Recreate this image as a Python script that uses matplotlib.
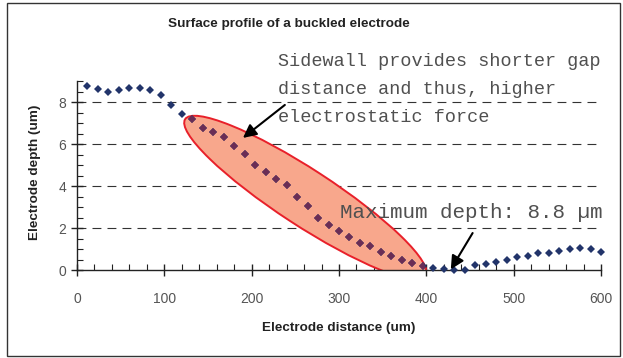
import numpy as np
import matplotlib
matplotlib.use('Agg')
import matplotlib.pyplot as plt
import matplotlib.patches as mpatches
import matplotlib.transforms as mtransforms
from matplotlib.ticker import MultipleLocator

# surface profile (um)
distance = [12, 24, 36, 48, 60, 72, 84, 96, 108, 120,
            132, 144, 156, 168, 180, 192, 204, 216, 228, 240,
            252, 264, 276, 288, 300, 312, 324, 336, 348, 360,
            372, 384, 396, 408, 420, 432, 444, 456, 468, 480,
            492, 504, 516, 528, 540, 552, 564, 576, 588, 600]
depth = [8.74, 8.62, 8.47, 8.57, 8.69, 8.69, 8.57, 8.35, 7.85, 7.45,
         7.19, 6.76, 6.55, 6.31, 5.92, 5.53, 5.00, 4.69, 4.31, 4.04,
         3.46, 3.07, 2.48, 2.12, 1.86, 1.57, 1.29, 1.13, 0.86, 0.68,
         0.47, 0.31, 0.20, 0.08, 0.03, 0.00, 0.00, 0.24, 0.28, 0.39,
         0.50, 0.63, 0.68, 0.79, 0.83, 0.90, 1.02, 1.07, 0.98, 0.86]
grid_levels = [2, 4, 6, 8]

title = 'Surface profile of a buckled electrode'
xlabel = 'Electrode distance (um)'
ylabel = 'Electrode depth (um)'
note_sidewall = ['Sidewall provides shorter gap', 'distance and thus, higher', 'electrostatic force']
note_max = 'Maximum depth: 8.8 \u00b5m'

W, H = 623, 358
fig = plt.figure(figsize=(W / 100, H / 100), dpi=100)
plt.rcParams['font.family'] = ['Liberation Sans', 'DejaVu Sans']


def fx(px):
    return px / W


def fy(py):
    return 1 - py / H


ax = fig.add_axes([fx(77), fy(270), fx(601) - fx(77), fy(81) - fy(270)])
ax.set_xlim(0, 600)
ax.set_ylim(0, 9)
for s in ['top', 'right']:
    ax.spines[s].set_visible(False)
for s in ['left', 'bottom']:
    ax.spines[s].set_color('#222222')
    ax.spines[s].set_linewidth(1.0)

ax.xaxis.set_major_locator(MultipleLocator(100))
ax.xaxis.set_minor_locator(MultipleLocator(20))
ax.yaxis.set_major_locator(MultipleLocator(2))
ax.yaxis.set_minor_locator(MultipleLocator(0.5))
ax.tick_params(which='major', direction='inout', length=8, width=1, color='#222222',
               labelsize=10, labelcolor='#555555')
ax.tick_params(which='minor', direction='in', length=4, width=0.8, color='#222222')
ax.tick_params(axis='x', which='major', pad=12)
ax.tick_params(axis='y', which='major', pad=4)

for g in grid_levels:
    ax.axhline(g, color='#333333', lw=0.8, linestyle=(0, (8, 5.5)), zorder=1)

# highlighted sidewall region
ell = mpatches.Ellipse((0, 0), 2.87, 0.56, angle=-33.1,
                       transform=fig.dpi_scale_trans + mtransforms.ScaledTranslation(261.5, 3.45, ax.transData),
                       facecolor='#F8A78C', edgecolor='#E8202A', lw=1.4, zorder=2)
ax.add_patch(ell)

ax.plot(distance, depth, linestyle='none', marker='D', ms=4.5, color='#22346A',
        markeredgewidth=0, zorder=3, clip_on=False)
inside, = ax.plot(distance, depth, linestyle='none', marker='D', ms=4.5, color='#6B2D55',
                  markeredgewidth=0, zorder=4)
inside.set_clip_path(ell)

arrow = dict(arrowstyle='-|>', lw=1.5, color='black', mutation_scale=20, shrinkA=0, shrinkB=0)
ax.annotate('', xy=(190, 6.29), xytext=(238, 7.86), arrowprops=arrow, zorder=5)
ax.annotate('', xy=(428, 0.03), xytext=(453, 1.76), arrowprops=arrow, zorder=5)

for i, line in enumerate(note_sidewall):
    fig.text(fx(278), fy(62 + 27.5 * i), line, family='Liberation Mono', fontsize=13.3,
             color='#505050', va='center', ha='left')
fig.text(fx(340), fy(212), note_max, family='Liberation Mono', fontsize=15,
         color='#505050', va='center', ha='left')

fig.text(fx(289), fy(24), title, fontsize=9.7, fontweight='bold', ha='center', va='center',
         color='#222222')
fig.text(fx(339), fy(328), xlabel, fontsize=9.7, fontweight='bold', ha='center', va='center',
         color='#222222')
fig.text(fx(35), fy(172), ylabel, fontsize=9.7, fontweight='bold', ha='center', va='center',
         rotation=90, color='#222222')

border = mpatches.Rectangle((fx(7), fy(356)), fx(620) - fx(7), fy(3) - fy(356),
                            transform=fig.transFigure, fill=False, edgecolor='#333333', lw=1.0)
fig.patches.append(border)

fig.savefig('out.png', dpi=100)
